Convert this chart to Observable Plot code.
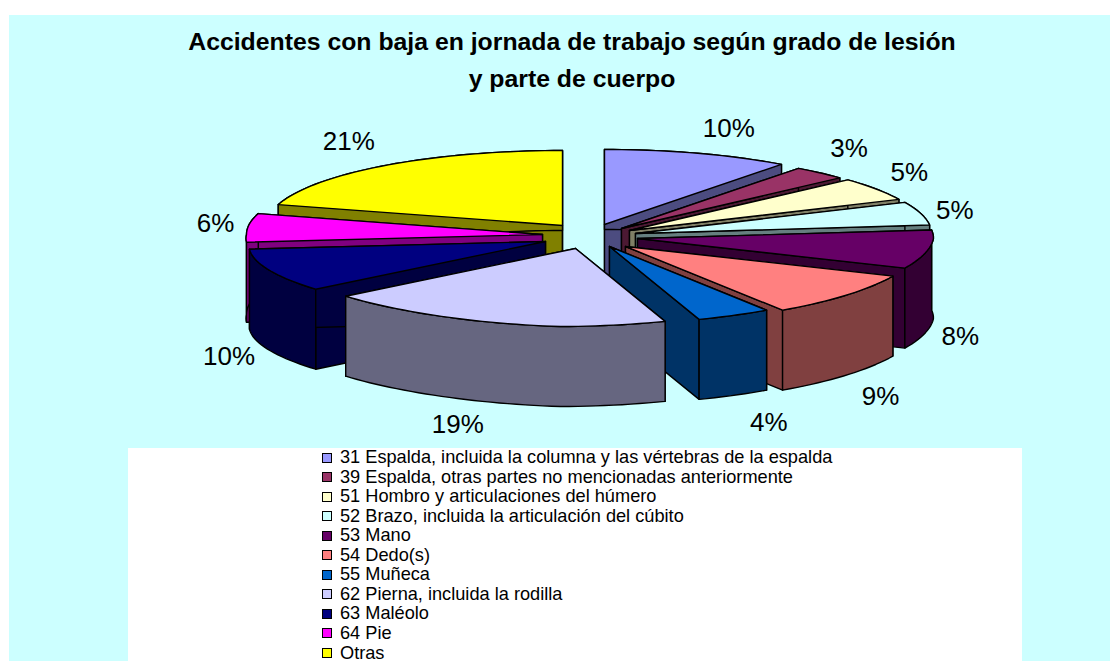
<!DOCTYPE html>
<html>
<head>
<meta charset="utf-8">
<script src="https://cdn.jsdelivr.net/npm/d3@7"></script>
<script src="https://cdn.jsdelivr.net/npm/@observablehq/plot@0.6"></script>
<style>
html,body{margin:0;padding:0;background:#fff;}
#root{position:relative;width:1110px;height:661px;overflow:hidden;font-family:"Liberation Sans",Arial,sans-serif;}
#bg{position:absolute;left:9px;top:15px;width:1101px;height:646px;background:#CCFFFF;}
#title{position:absolute;left:9px;width:1126px;top:23px;text-align:center;font-weight:bold;font-size:24.8px;line-height:37px;color:#000;white-space:nowrap;}
#chart{position:absolute;left:0;top:100px;}
#legend{position:absolute;left:128px;top:448px;width:894px;height:213px;background:#fff;}
.row{position:absolute;left:194px;height:16px;line-height:16px;font-size:18.2px;color:#000;white-space:nowrap;}
.sw{display:inline-block;width:8px;height:8px;border:1px solid #000;margin-right:8px;vertical-align:0.5px;}
</style>
</head>
<body>
<div id="root">
  <div id="bg"></div>
  <div id="title">Accidentes con baja en jornada de trabajo según grado de lesión<br>y parte de cuerpo</div>
  <div id="chart"></div>
  <div id="legend"></div>
</div>
<script>
// Data
const categories = ["31 Espalda, incluida la columna y las vértebras de la espalda","39 Espalda, otras partes no mencionadas anteriormente","51 Hombro y articulaciones del húmero","52 Brazo, incluida la articulación del cúbito","53 Mano","54 Dedo(s)","55 Muñeca","62 Pierna, incluida la rodilla","63 Maléolo","64 Pie","Otras"];
const shares = [10.2,3,5,5,8,9,4,19,10,6.3,20.5];
const topColors = ["#9999FF","#993366","#FFFFCC","#CCFFFF","#660066","#FF8080","#0066CC","#CCCCFF","#000080","#FF00FF","#FFFF00"];
const wallColors = ["#4C4C80","#4C1933","#808066","#668080","#330033","#804040","#003366","#666680","#000040","#800080","#808000"];

// Layout of the exploded 3-D pie (pixels)
const explodeX = [604,621,629,635,637,625,609,575,545,542,562];
const explodeY = [224,228,230,233,238,246,246,248,241,234,225];
const labelDx = [31,29,33,34,32,34,35,-33,-40,-32,-36];
const labelDy = [-25,-24,-16,-3,87,102,107,103,87,-4,-24];
const paintOrder = [0,10,1,2,3,9,4,8,5,6,7];
const rx = 296, ryBack = 75, ryFront = 78, depth = 80, svgTop = 100, svgH = 348;

const total = d3.sum(shares);
const cum = d3.cumsum(shares);
function rim(i, t) {
  const s = Math.sin(t), c = Math.cos(t);
  if (c >= 0) return [explodeX[i] + rx * s, explodeY[i] - ryBack * c];
  return [explodeX[i] + rx * s + 17 * c, explodeY[i] - ryFront * c + (s < 0 ? 10 * s * Math.abs(c) : 0)];
}
function arc(i) {
  const t0 = (cum[i] - shares[i]) / total * 2 * Math.PI, t1 = cum[i] / total * 2 * Math.PI;
  const n = Math.max(2, Math.ceil((t1 - t0) / 0.03));
  return d3.range(n + 1).map(k => rim(i, t0 + (t1 - t0) * k / n));
}
const poly = pts => pts.map(([x, y]) => ({x, y}));
const down = ([x, y]) => [x, y + depth];

const marks = [];
const face = (pts, fill) => marks.push(Plot.line(poly([...pts, pts[0]]), {x:"x", y:"y", fill, stroke:"#000", strokeWidth:1.4, strokeLinejoin:"round"}));
for (const i of paintOrder) {
  const a = arc(i), apex = [explodeX[i], explodeY[i]];
  const first = a[0], last = a[a.length - 1];
  face([apex, first, down(first), down(apex)], wallColors[i]);
  face([apex, last, down(last), down(apex)], wallColors[i]);
  face([...a, ...a.map(down).reverse()], wallColors[i]);
  face([apex, ...a], topColors[i]);
}
const labels = categories.map((c, i) => {
  const [x, y] = rim(i, (cum[i] - shares[i] / 2) / total * 2 * Math.PI);
  return {x: x + labelDx[i], y: y + labelDy[i], t: Math.round(shares[i]) + "%"};
});
marks.push(Plot.text(labels, {x:"x", y:"y", text:"t", fontSize:26, fill:"#000", textAnchor:"middle", lineAnchor:"middle", fontFamily:"Liberation Sans"}));

const plot = Plot.plot({
  width:1110, height:svgH, margin:0,
  x:{domain:[0,1110], range:[0,1110], axis:null},
  y:{domain:[svgTop, svgTop + svgH], range:[0, svgH], axis:null},
  style:{background:"transparent", overflow:"visible"},
  marks
});
document.getElementById("chart").appendChild(plot);

const legend = document.getElementById("legend");
categories.forEach((c, i) => {
  const r = document.createElement("div");
  r.className = "row";
  r.style.top = (1 + i * 19.55) + "px";
  const s = document.createElement("span");
  s.className = "sw"; s.style.background = topColors[i];
  r.appendChild(s);
  r.appendChild(document.createTextNode(c));
  legend.appendChild(r);
});
</script>
</body>
</html>
